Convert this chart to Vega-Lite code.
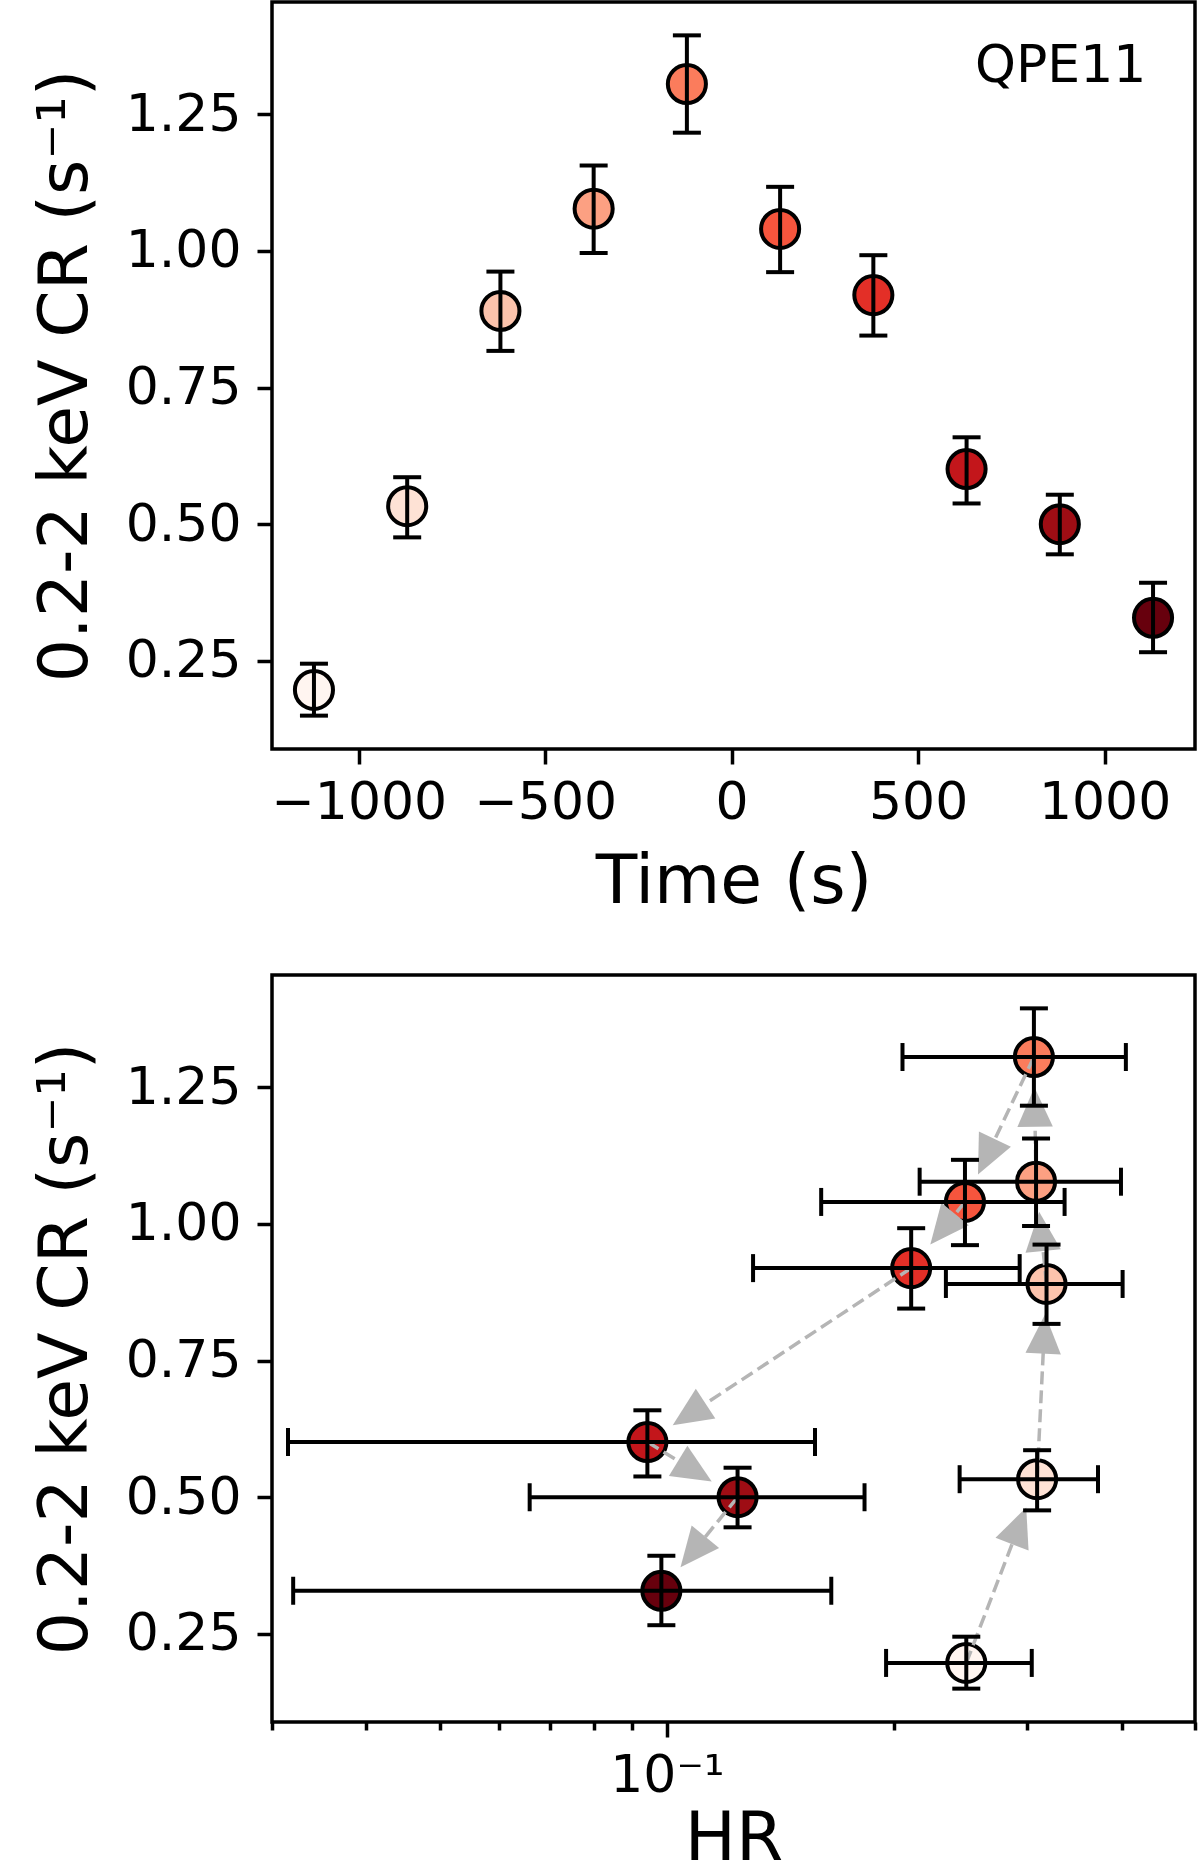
{
  "$schema": "https://vega.github.io/schema/vega-lite/v6.json",
  "padding": {"left": 30, "top": 0, "right": 0, "bottom": 0},
  "spacing": 55,
  "datasets": {
    "qpe": [
      {"idx": 1, "time": -1120, "cr": 0.197, "cr_lo": 0.150, "cr_hi": 0.245, "hr": 0.249, "hr_lo": 0.195, "hr_hi": 0.304},
      {"idx": 2, "time": -870, "cr": 0.533, "cr_lo": 0.476, "cr_hi": 0.586, "hr": 0.309, "hr_lo": 0.244, "hr_hi": 0.372},
      {"idx": 3, "time": -620, "cr": 0.890, "cr_lo": 0.817, "cr_hi": 0.962, "hr": 0.318, "hr_lo": 0.234, "hr_hi": 0.401},
      {"idx": 4, "time": -370, "cr": 1.077, "cr_lo": 0.996, "cr_hi": 1.156, "hr": 0.308, "hr_lo": 0.216, "hr_hi": 0.399},
      {"idx": 5, "time": -120, "cr": 1.305, "cr_lo": 1.216, "cr_hi": 1.394, "hr": 0.306, "hr_lo": 0.205, "hr_hi": 0.405},
      {"idx": 6, "time": 130, "cr": 1.040, "cr_lo": 0.961, "cr_hi": 1.117, "hr": 0.248, "hr_lo": 0.160, "hr_hi": 0.336},
      {"idx": 7, "time": 380, "cr": 0.919, "cr_lo": 0.845, "cr_hi": 0.992, "hr": 0.2105, "hr_lo": 0.130, "hr_hi": 0.293},
      {"idx": 8, "time": 630, "cr": 0.601, "cr_lo": 0.538, "cr_hi": 0.659, "hr": 0.0942, "hr_lo": 0.0315, "hr_hi": 0.157},
      {"idx": 9, "time": 880, "cr": 0.500, "cr_lo": 0.445, "cr_hi": 0.554, "hr": 0.124, "hr_lo": 0.0658, "hr_hi": 0.1826},
      {"idx": 10, "time": 1130, "cr": 0.329, "cr_lo": 0.266, "cr_hi": 0.393, "hr": 0.0983, "hr_lo": 0.032, "hr_hi": 0.165}
    ]
  },
  "vconcat": [
    {
      "width": 923,
      "height": 747,
      "data": {"name": "qpe"},
      "layer": [
        {
          "mark": {"type": "point", "shape": "circle", "filled": true, "size": 1450, "stroke": "black", "strokeWidth": 4, "opacity": 1},
          "encoding": {
            "x": {"field": "time", "type": "quantitative", "title": "Time (s)", "scale": {"domain": [-1232.5, 1242.5], "nice": false, "zero": false},
                  "axis": {"values": [-1000, -500, 0, 500, 1000], "format": "d"}},
            "y": {"field": "cr", "type": "quantitative", "title": "0.2-2 keV CR (s⁻¹)", "scale": {"domain": [0.089, 1.455], "nice": false, "zero": false},
                  "axis": {"values": [0.25, 0.5, 0.75, 1, 1.25], "format": ".2f"}},
            "color": {"field": "idx", "type": "ordinal", "legend": null,
                      "scale": {"domain": [1, 2, 3, 4, 5, 6, 7, 8, 9, 10],
                                "range": ["#fff5f0", "#fee2d5", "#fcc3ac", "#fca082", "#fb7c5c", "#f6553d", "#e32f27", "#c3161b", "#9e0d14", "#67000d"]}}
          }
        },
        {
          "mark": {"type": "rule", "color": "black", "strokeWidth": 4},
          "encoding": {
            "x": {"field": "time", "type": "quantitative", "title": "Time (s)"},
            "y": {"field": "cr_lo", "type": "quantitative", "title": "0.2-2 keV CR (s⁻¹)"},
            "y2": {"field": "cr_hi"}
          }
        },
        {
          "mark": {"type": "tick", "orient": "horizontal", "color": "black", "size": 28, "thickness": 4, "opacity": 1},
          "encoding": {
            "x": {"field": "time", "type": "quantitative", "title": "Time (s)"},
            "y": {"field": "cr_lo", "type": "quantitative", "title": "0.2-2 keV CR (s⁻¹)"}
          }
        },
        {
          "mark": {"type": "tick", "orient": "horizontal", "color": "black", "size": 28, "thickness": 4, "opacity": 1},
          "encoding": {
            "x": {"field": "time", "type": "quantitative", "title": "Time (s)"},
            "y": {"field": "cr_hi", "type": "quantitative", "title": "0.2-2 keV CR (s⁻¹)"}
          }
        },
        {
          "data": {"values": [{"label": "QPE11"}]},
          "mark": {"type": "text", "fontSize": 52, "align": "right", "baseline": "alphabetic", "color": "black"},
          "encoding": {
            "text": {"field": "label"},
            "x": {"datum": 1112, "type": "quantitative"},
            "y": {"datum": 1.3078, "type": "quantitative"}
          }
        }
      ]
    },
    {
      "width": 923,
      "height": 747,
      "data": {"name": "qpe"},
      "layer": [
        {
          "mark": {"type": "point", "shape": "circle", "filled": true, "size": 1450, "stroke": "black", "strokeWidth": 4, "opacity": 1},
          "encoding": {
            "x": {"field": "hr", "type": "quantitative", "title": "HR", "scale": {"type": "log", "domain": [0.03, 0.5], "nice": false},
                  "axis": {"values": [0.03, 0.04, 0.05, 0.06, 0.07, 0.08, 0.09, 0.1, 0.2, 0.3, 0.4, 0.5],
                           "labelExpr": "datum.value == 0.1 ? '10⁻¹' : ''",
                           "titlePadding": 4,
                           "tickSize": {"condition": {"test": "datum.value == 0.1", "value": 15}, "value": 8}}},
            "y": {"field": "cr", "type": "quantitative", "title": "0.2-2 keV CR (s⁻¹)", "scale": {"domain": [0.089, 1.455], "nice": false, "zero": false},
                  "axis": {"values": [0.25, 0.5, 0.75, 1, 1.25], "format": ".2f"}},
            "color": {"field": "idx", "type": "ordinal", "legend": null}
          }
        },
        {
          "transform": [
            {"window": [{"op": "lead", "field": "hr", "as": "hr2"}, {"op": "lead", "field": "cr", "as": "cr2"}], "sort": [{"field": "idx"}]},
            {"filter": "datum.hr2 != null"},
            {"calculate": "923 * (log(datum.hr) / LN10 + 1.522879) / 1.221849", "as": "px1"},
            {"calculate": "747 * (datum.cr - 0.089) / 1.366", "as": "py1"},
            {"calculate": "923 * (log(datum.hr2) / LN10 + 1.522879) / 1.221849", "as": "px2"},
            {"calculate": "747 * (datum.cr2 - 0.089) / 1.366", "as": "py2"},
            {"calculate": "sqrt(pow(datum.px2 - datum.px1, 2) + pow(datum.py2 - datum.py1, 2))", "as": "len"},
            {"calculate": "datum.px2 - 48 * (datum.px2 - datum.px1) / datum.len", "as": "hx"},
            {"calculate": "datum.py2 - 48 * (datum.py2 - datum.py1) / datum.len", "as": "hy"},
            {"calculate": "pow(10, datum.hx * 1.221849 / 923 - 1.522879)", "as": "head_hr"},
            {"calculate": "datum.hy * 1.366 / 747 + 0.089", "as": "head_cr"}
          ],
          "mark": {"type": "rule", "color": "#b5b5b5", "strokeWidth": 3.5, "strokeDash": [13, 6]},
          "encoding": {
            "x": {"field": "hr", "type": "quantitative", "title": "HR"},
            "y": {"field": "cr", "type": "quantitative", "title": "0.2-2 keV CR (s⁻¹)"},
            "x2": {"field": "head_hr"},
            "y2": {"field": "head_cr"}
          }
        },
        {
          "transform": [
            {"window": [{"op": "lead", "field": "hr", "as": "hr2"}, {"op": "lead", "field": "cr", "as": "cr2"}], "sort": [{"field": "idx"}]},
            {"filter": "datum.hr2 != null"},
            {"calculate": "923 * (log(datum.hr) / LN10 + 1.522879) / 1.221849", "as": "px1"},
            {"calculate": "747 * (datum.cr - 0.089) / 1.366", "as": "py1"},
            {"calculate": "923 * (log(datum.hr2) / LN10 + 1.522879) / 1.221849", "as": "px2"},
            {"calculate": "747 * (datum.cr2 - 0.089) / 1.366", "as": "py2"},
            {"calculate": "sqrt(pow(datum.px2 - datum.px1, 2) + pow(datum.py2 - datum.py1, 2))", "as": "len"},
            {"calculate": "datum.px2 - 50 * (datum.px2 - datum.px1) / datum.len", "as": "hx"},
            {"calculate": "datum.py2 - 50 * (datum.py2 - datum.py1) / datum.len", "as": "hy"},
            {"calculate": "pow(10, datum.hx * 1.221849 / 923 - 1.522879)", "as": "head_hr"},
            {"calculate": "datum.hy * 1.366 / 747 + 0.089", "as": "head_cr"},
            {"calculate": "atan2(datum.px2 - datum.px1, datum.py2 - datum.py1) * 180 / PI", "as": "ang"}
          ],
          "mark": {"type": "point", "shape": "M0,-1L0.9,1L-0.9,1Z", "filled": true, "size": 1550, "color": "#b5b5b5", "opacity": 1, "strokeWidth": 0},
          "encoding": {
            "x": {"field": "head_hr", "type": "quantitative", "title": "HR"},
            "y": {"field": "head_cr", "type": "quantitative", "title": "0.2-2 keV CR (s⁻¹)"},
            "angle": {"field": "ang", "type": "quantitative", "scale": null}
          }
        },
        {
          "mark": {"type": "rule", "color": "black", "strokeWidth": 4},
          "encoding": {
            "x": {"field": "hr", "type": "quantitative", "title": "HR"},
            "y": {"field": "cr_lo", "type": "quantitative", "title": "0.2-2 keV CR (s⁻¹)"},
            "y2": {"field": "cr_hi"}
          }
        },
        {
          "mark": {"type": "tick", "orient": "horizontal", "color": "black", "size": 28, "thickness": 4, "opacity": 1},
          "encoding": {
            "x": {"field": "hr", "type": "quantitative", "title": "HR"},
            "y": {"field": "cr_lo", "type": "quantitative", "title": "0.2-2 keV CR (s⁻¹)"}
          }
        },
        {
          "mark": {"type": "tick", "orient": "horizontal", "color": "black", "size": 28, "thickness": 4, "opacity": 1},
          "encoding": {
            "x": {"field": "hr", "type": "quantitative", "title": "HR"},
            "y": {"field": "cr_hi", "type": "quantitative", "title": "0.2-2 keV CR (s⁻¹)"}
          }
        },
        {
          "mark": {"type": "rule", "color": "black", "strokeWidth": 4},
          "encoding": {
            "x": {"field": "hr_lo", "type": "quantitative", "title": "HR"},
            "x2": {"field": "hr_hi"},
            "y": {"field": "cr", "type": "quantitative", "title": "0.2-2 keV CR (s⁻¹)"}
          }
        },
        {
          "mark": {"type": "tick", "orient": "vertical", "color": "black", "size": 28, "thickness": 4, "opacity": 1},
          "encoding": {
            "x": {"field": "hr_lo", "type": "quantitative", "title": "HR"},
            "y": {"field": "cr", "type": "quantitative", "title": "0.2-2 keV CR (s⁻¹)"}
          }
        },
        {
          "mark": {"type": "tick", "orient": "vertical", "color": "black", "size": 28, "thickness": 4, "opacity": 1},
          "encoding": {
            "x": {"field": "hr_hi", "type": "quantitative", "title": "HR"},
            "y": {"field": "cr", "type": "quantitative", "title": "0.2-2 keV CR (s⁻¹)"}
          }
        }
      ]
    }
  ],
  "config": {
    "font": "DejaVu Sans",
    "view": {"stroke": "black", "strokeWidth": 3.5},
    "axis": {
      "grid": false,
      "domain": false,
      "tickColor": "black",
      "tickWidth": 3.5,
      "tickSize": 15,
      "labelColor": "black",
      "titleColor": "black",
      "labelFont": "DejaVu Sans",
      "titleFont": "DejaVu Sans",
      "labelFontSize": 52,
      "titleFontSize": 68,
      "titleFontWeight": "normal",
      "labelFlush": false,
      "labelOverlap": false
    },
    "axisX": {"labelPadding": 13, "titlePadding": 20},
    "axisY": {"labelPadding": 16, "titlePadding": 25}
  }
}
